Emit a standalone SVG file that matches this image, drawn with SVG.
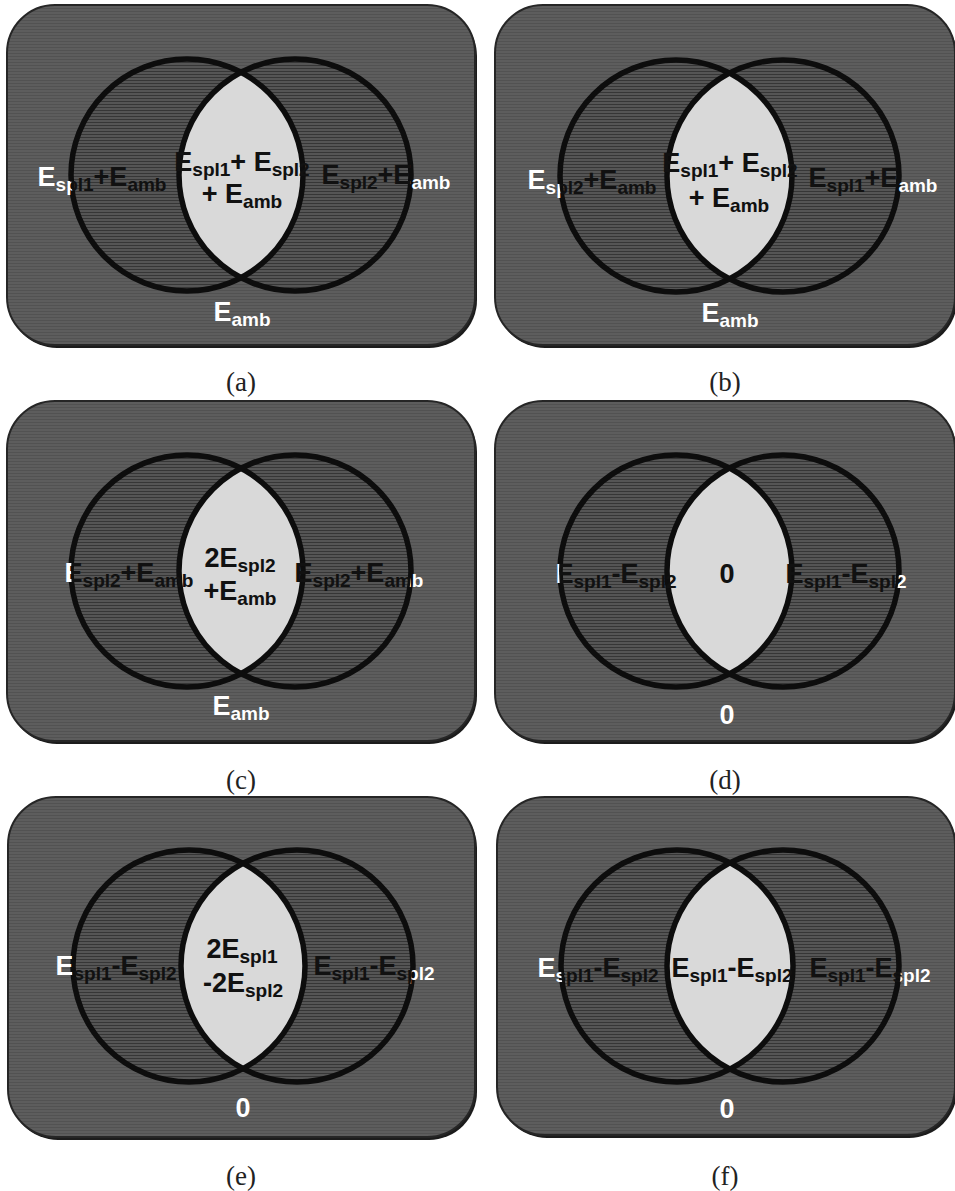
<svg xmlns="http://www.w3.org/2000/svg" width="955" height="1191" viewBox="0 0 955 1191">
<style>
.sh{fill:#1c1c1c}
.bg{fill:url(#outer);stroke:#262626;stroke-width:2}
.fill{fill:url(#hatch)}
.lens{fill:#d9d9d9}
.ring{fill:none;stroke:#0d0d0d;stroke-width:5.5}
.t{font-family:"Liberation Sans",Arial,sans-serif;font-weight:bold;font-size:27px;fill:url(#tp);text-anchor:middle}
.s{font-size:19px}
.cap{font-family:"Liberation Serif","Times New Roman",serif;font-size:27px;fill:#222;text-anchor:middle}
</style>
<defs>
<pattern id="outer" patternUnits="userSpaceOnUse" width="4" height="3"><rect width="4" height="3" fill="#5d5d5d"/><rect width="4" height="1" fill="#525252"/></pattern>
<pattern id="hatch" patternUnits="userSpaceOnUse" width="4" height="3"><rect width="4" height="3" fill="#555555"/><rect width="4" height="1" fill="#363636"/></pattern>
<pattern id="tp" patternUnits="userSpaceOnUse" x="0" y="0" width="470" height="345"><rect width="470" height="345" fill="#ffffff"/><circle cx="180" cy="170" r="116" fill="#111111"/><circle cx="288" cy="170" r="116" fill="#111111"/></pattern>
</defs>
<rect width="955" height="1191" fill="#ffffff"/>
<g id="connectors"/>

<g id="panel-a" transform="translate(7,5)">
<rect class="sh" x="2" y="3" width="468" height="340" rx="48"/>
<rect class="bg" width="468" height="340" rx="48"/>
<circle class="fill" cx="180" cy="170" r="116"/>
<circle class="fill" cx="288" cy="170" r="116"/>
<path class="lens" d="M234,67.3A116,116 0 0 1 234,272.7A116,116 0 0 1 234,67.3Z"/>
<circle class="ring" cx="180" cy="170" r="116"/>
<circle class="ring" cx="288" cy="170" r="116"/>
<text class="t" x="95" y="181">E<tspan class="s" dy="5">spl1</tspan><tspan dy="-5">+E</tspan><tspan class="s" dy="5">amb</tspan></text>
<text class="t" x="235" y="166">E<tspan class="s" dy="5">spl1</tspan><tspan dy="-5">+ E</tspan><tspan class="s" dy="5">spl2</tspan></text>
<text class="t" x="235" y="198">+ E<tspan class="s" dy="5">amb</tspan></text>
<text class="t" x="379" y="179">E<tspan class="s" dy="5">spl2</tspan><tspan dy="-5">+E</tspan><tspan class="s" dy="5">amb</tspan></text>
<text class="t" x="235" y="316">E<tspan class="s" dy="5">amb</tspan></text>
</g>

<g id="panel-b" transform="translate(495,5)">
<rect class="sh" x="2" y="3" width="460" height="340" rx="48"/>
<rect class="bg" width="460" height="340" rx="48"/>
<circle class="fill" cx="181" cy="171" r="116"/>
<circle class="fill" cx="288" cy="171" r="116"/>
<path class="lens" d="M234.5,68.4A116,116 0 0 1 234.5,273.6A116,116 0 0 1 234.5,68.4Z"/>
<circle class="ring" cx="181" cy="171" r="116"/>
<circle class="ring" cx="288" cy="171" r="116"/>
<text class="t" x="97" y="184">E<tspan class="s" dy="5">spl2</tspan><tspan dy="-5">+E</tspan><tspan class="s" dy="5">amb</tspan></text>
<text class="t" x="235" y="167">E<tspan class="s" dy="5">spl1</tspan><tspan dy="-5">+ E</tspan><tspan class="s" dy="5">spl2</tspan></text>
<text class="t" x="234" y="202">+ E<tspan class="s" dy="5">amb</tspan></text>
<text class="t" x="378" y="182">E<tspan class="s" dy="5">spl1</tspan><tspan dy="-5">+E</tspan><tspan class="s" dy="5">amb</tspan></text>
<text class="t" x="235" y="317">E<tspan class="s" dy="5">amb</tspan></text>
</g>

<g id="panel-c" transform="translate(7,401)">
<rect class="sh" x="2" y="3" width="468" height="340" rx="48"/>
<rect class="bg" width="468" height="340" rx="48"/>
<circle class="fill" cx="180" cy="170" r="116"/>
<circle class="fill" cx="288" cy="170" r="116"/>
<path class="lens" d="M234,67.3A116,116 0 0 1 234,272.7A116,116 0 0 1 234,67.3Z"/>
<circle class="ring" cx="180" cy="170" r="116"/>
<circle class="ring" cx="288" cy="170" r="116"/>
<text class="t" x="122" y="181">E<tspan class="s" dy="5">spl2</tspan><tspan dy="-5">+E</tspan><tspan class="s" dy="5">amb</tspan></text>
<text class="t" x="233" y="166">2E<tspan class="s" dy="5">spl2</tspan></text>
<text class="t" x="233" y="199">+E<tspan class="s" dy="5">amb</tspan></text>
<text class="t" x="352" y="181">E<tspan class="s" dy="5">spl2</tspan><tspan dy="-5">+E</tspan><tspan class="s" dy="5">amb</tspan></text>
<text class="t" x="234" y="314">E<tspan class="s" dy="5">amb</tspan></text>
</g>

<g id="panel-d" transform="translate(495,401)">
<rect class="sh" x="2" y="3" width="460" height="340" rx="48"/>
<rect class="bg" width="460" height="340" rx="48"/>
<circle class="fill" cx="181" cy="170" r="116"/>
<circle class="fill" cx="288" cy="170" r="116"/>
<path class="lens" d="M234.5,67.4A116,116 0 0 1 234.5,272.6A116,116 0 0 1 234.5,67.4Z"/>
<circle class="ring" cx="181" cy="170" r="116"/>
<circle class="ring" cx="288" cy="170" r="116"/>
<text class="t" x="121" y="182">E<tspan class="s" dy="5">spl1</tspan><tspan dy="-5">-E</tspan><tspan class="s" dy="5">spl2</tspan></text>
<text class="t" x="232" y="182">0</text>
<text class="t" x="351" y="182">E<tspan class="s" dy="5">spl1</tspan><tspan dy="-5">-E</tspan><tspan class="s" dy="5">spl2</tspan></text>
<text class="t" x="232" y="323">0</text>
</g>

<g id="panel-e" transform="translate(8,797)">
<rect class="sh" x="2" y="3" width="467" height="340" rx="48"/>
<rect class="bg" width="467" height="340" rx="48"/>
<circle class="fill" cx="181" cy="169" r="116"/>
<circle class="fill" cx="289" cy="169" r="116"/>
<path class="lens" d="M235,66.3A116,116 0 0 1 235,271.7A116,116 0 0 1 235,66.3Z"/>
<circle class="ring" cx="181" cy="169" r="116"/>
<circle class="ring" cx="289" cy="169" r="116"/>
<text class="t" x="108" y="178">E<tspan class="s" dy="5">spl1</tspan><tspan dy="-5">-E</tspan><tspan class="s" dy="5">spl2</tspan></text>
<text class="t" x="234" y="161">2E<tspan class="s" dy="5">spl1</tspan></text>
<text class="t" x="235" y="195">-2E<tspan class="s" dy="5">spl2</tspan></text>
<text class="t" x="366" y="178">E<tspan class="s" dy="5">spl1</tspan><tspan dy="-5">-E</tspan><tspan class="s" dy="5">spl2</tspan></text>
<text class="t" x="235" y="320">0</text>
</g>

<g id="panel-f" transform="translate(497,797)">
<rect class="sh" x="2" y="3" width="458" height="338" rx="48"/>
<rect class="bg" width="458" height="338" rx="48"/>
<circle class="fill" cx="180" cy="169" r="116"/>
<circle class="fill" cx="286" cy="169" r="116"/>
<path class="lens" d="M233,66A116,116 0 0 1 233,272A116,116 0 0 1 233,66Z"/>
<circle class="ring" cx="180" cy="169" r="116"/>
<circle class="ring" cx="286" cy="169" r="116"/>
<text class="t" x="101" y="180">E<tspan class="s" dy="5">spl1</tspan><tspan dy="-5">-E</tspan><tspan class="s" dy="5">spl2</tspan></text>
<text class="t" x="235" y="180">E<tspan class="s" dy="5">spl1</tspan><tspan dy="-5">-E</tspan><tspan class="s" dy="5">spl2</tspan></text>
<text class="t" x="373" y="180">E<tspan class="s" dy="5">spl1</tspan><tspan dy="-5">-E</tspan><tspan class="s" dy="5">spl2</tspan></text>
<text class="t" x="230" y="321">0</text>
</g>

<g id="captions">
<text class="cap" x="241" y="391">(a)</text>
<text class="cap" x="725" y="391">(b)</text>
<text class="cap" x="241" y="789">(c)</text>
<text class="cap" x="725" y="789">(d)</text>
<text class="cap" x="241" y="1185">(e)</text>
<text class="cap" x="725" y="1185">(f)</text>
</g>
</svg>
